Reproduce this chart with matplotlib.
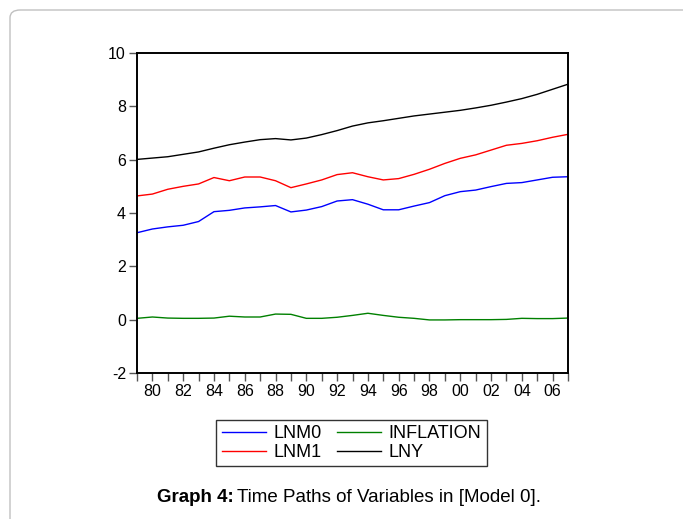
import matplotlib
matplotlib.use("Agg")
import matplotlib.pyplot as plt
from matplotlib.patches import FancyBboxPatch
from matplotlib.ticker import MultipleLocator, FixedLocator

plt.rcParams['font.family'] = ['Liberation Sans', 'DejaVu Sans']

years = list(range(1979, 2008))
lnm0 = [3.26, 3.40, 3.48, 3.54, 3.68, 4.05, 4.10, 4.19, 4.23, 4.28, 4.04, 4.11, 4.24, 4.45, 4.50,
        4.33, 4.12, 4.12, 4.26, 4.39, 4.65, 4.80, 4.86, 4.99, 5.11, 5.14, 5.24, 5.34, 5.36]
lnm1 = [4.64, 4.71, 4.89, 5.00, 5.09, 5.33, 5.21, 5.35, 5.35, 5.21, 4.95, 5.09, 5.24, 5.44, 5.51,
        5.36, 5.24, 5.29, 5.45, 5.64, 5.86, 6.05, 6.18, 6.36, 6.54, 6.61, 6.71, 6.84, 6.95]
inflation = [0.05, 0.10, 0.06, 0.05, 0.05, 0.06, 0.13, 0.10, 0.10, 0.21, 0.20, 0.05, 0.05, 0.09, 0.16,
             0.24, 0.16, 0.09, 0.05, -0.01, -0.01, 0.00, 0.00, 0.00, 0.01, 0.05, 0.04, 0.04, 0.06]
lny = [6.01, 6.06, 6.11, 6.20, 6.29, 6.43, 6.56, 6.66, 6.75, 6.79, 6.74, 6.81, 6.94, 7.09, 7.26,
       7.38, 7.46, 7.55, 7.64, 7.71, 7.78, 7.85, 7.94, 8.04, 8.16, 8.29, 8.45, 8.64, 8.83]
label_years = list(range(1980, 2007, 2))
x_labels = [f"{y % 100:02d}" for y in label_years]
yticks = [-2, 0, 2, 4, 6, 8, 10]

W, H = 683, 519
fig = plt.figure(figsize=(W / 100, H / 100), dpi=100)

# page border (rounded frame)
border = FancyBboxPatch((10 / W, -0.2), 1.2, (H - 10) / H + 0.2,
                        boxstyle="round,pad=0,rounding_size=0.015",
                        transform=fig.transFigure, fill=False,
                        edgecolor="#c0c0c0", linewidth=1.0, clip_on=False)
fig.patches.append(border)

ax = fig.add_axes([137 / W, 1 - 373 / H, (568 - 137) / W, (373 - 53) / H])
l1, = ax.plot(years, lnm0, color="#0000ff", lw=1.0, label="LNM0")
l2, = ax.plot(years, lnm1, color="#ff0000", lw=1.0, label="LNM1")
l3, = ax.plot(years, inflation, color="#008000", lw=1.0, label="INFLATION")
l4, = ax.plot(years, lny, color="#000000", lw=1.0, label="LNY")

ax.set_xlim(1979, 2007)
ax.set_ylim(-2, 10)
ax.set_yticks(yticks)
ax.set_yticklabels([str(v) for v in yticks])
ax.xaxis.set_major_locator(FixedLocator(label_years))
ax.set_xticklabels(x_labels)
ax.xaxis.set_minor_locator(MultipleLocator(1))
ax.tick_params(axis="y", direction="out", length=6, width=1, color="#555555",
               labelsize=11.5, pad=2)
ax.tick_params(axis="x", which="both", direction="out", length=6, width=1,
               color="#555555", labelsize=11.5, pad=2)
for s in ax.spines.values():
    s.set_linewidth(1.4)
    s.set_color("black")

leg = fig.legend(handles=[l1, l2, l3, l4], labels=["LNM0", "LNM1", "INFLATION", "LNY"],
                 ncol=2, loc="center", bbox_to_anchor=(351.5 / W, 1 - 443 / H),
                 frameon=True, fancybox=False, edgecolor="black", fontsize=13,
                 handlelength=2.45, handletextpad=0.4, columnspacing=0.85,
                 labelspacing=0.1, borderpad=0.3, borderaxespad=0)
leg.get_frame().set_linewidth(1.0)

fig.text(157 / W, 1 - 497 / H, "Graph 4:", fontsize=13.5, fontweight="bold",
         va="center", ha="left")
fig.text(237 / W, 1 - 497 / H, "Time Paths of Variables in [Model 0].", fontsize=13.5,
         va="center", ha="left")

fig.savefig("out.png", dpi=100)
